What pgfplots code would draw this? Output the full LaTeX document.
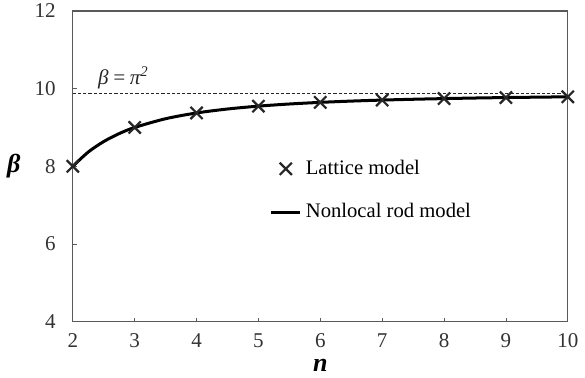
\documentclass[border=0pt]{standalone}
\usepackage{pgfplots}
\pgfplotsset{compat=1.18}
\usepackage{fontspec}
\setmainfont{Liberation Serif}
\begin{document}
\fontsize{10}{12}\selectfont
\begin{tikzpicture}
\begin{axis}[
  scale only axis,
  width=247pt, height=155pt,
  xmin=2, xmax=10, ymin=4, ymax=12,
  xtick={2,3,...,10}, ytick={4,6,8,10,12},
  tick pos=left, tick align=inside,
  major tick length=2pt,
  axis line style={black!65, line width=0.55pt},
  every tick/.style={black!65, line width=0.4pt},
  /pgf/number format/assume math mode=true,
  ticklabel style={font=\fontsize{10.5}{12}\selectfont, text=black!80},
  yticklabel style={xshift=-5pt, inner ysep=2pt},
  xticklabel style={yshift=-2.5pt},
  every axis x label/.style={at={(axis description cs:0.5,0)}, anchor=north, yshift=-15.5pt, inner sep=3pt},
  every axis y label/.style={at={(axis description cs:0,0.5)}, anchor=center, xshift=-29.5pt, inner sep=3.5pt},
  xlabel={\fontsize{13}{14}\selectfont\textbf{\textit{n}}},
  ylabel={\fontsize{13}{14}\selectfont\textbf{\textit{β}}},
  legend style={draw=none, fill=none, at={(rel axis cs:0.385,0.422)}, anchor=west,
    font=\fontsize{10.3}{12}\selectfont, row sep=9pt},
  legend cell align=left,
  legend image code/.code={\draw[mark repeat=2,mark phase=2,#1] plot coordinates {(0pt,0pt) (7.25pt,0pt) (14.5pt,0pt)};},
]
\addplot[black!85, dashed, line width=0.6pt, dash pattern=on 1.6pt off 1pt, forget plot] coordinates {(2,9.8696) (10,9.8696)};
\addplot[only marks, mark=x, mark size=4.3pt, line width=1.1pt, black!85]
 coordinates {(2,8.000) (3,9.000) (4,9.373) (5,9.549) (6,9.646) (7,9.705) (8,9.743) (9,9.770) (10,9.789)};
\addlegendentry{Lattice model}
\addplot[black, line width=1.5pt, smooth, no marks] coordinates {
(2,8.000) (2.25,8.367) (2.5,8.637) (2.75,8.842) (3,9.000) (3.5,9.225) (4,9.373) (4.5,9.475) (5,9.549) (5.5,9.604) (6,9.646) (6.5,9.679) (7,9.705) (7.5,9.726) (8,9.743) (8.5,9.758) (9,9.770) (9.5,9.780) (10,9.789)};
\addlegendentry{Nonlocal rod model}
\node[font=\fontsize{10.5}{12}\selectfont\itshape, text=black!85] at (axis cs:2.82,10.27) {β\,=\,π\textsuperscript{2}};
\end{axis}
\end{tikzpicture}
\end{document}
